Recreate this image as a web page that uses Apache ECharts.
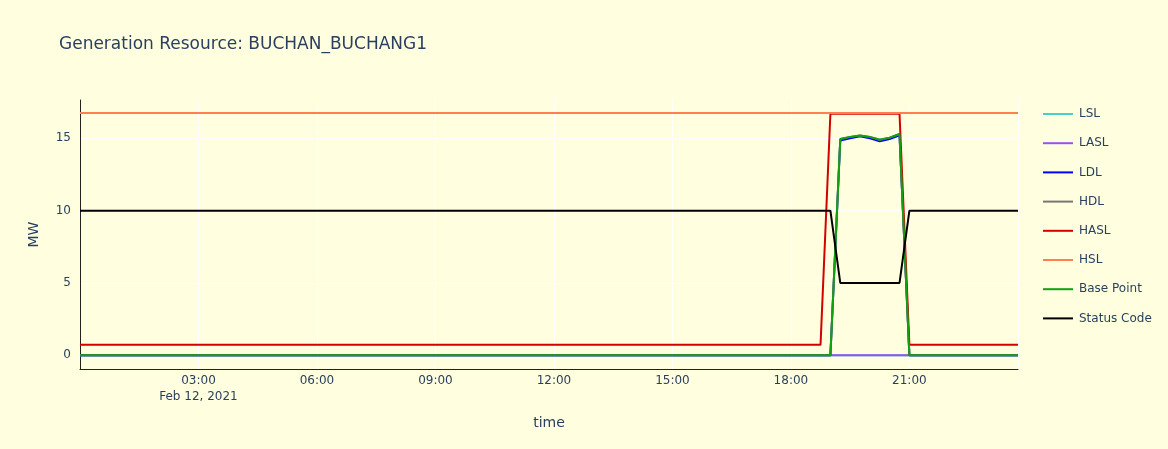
<!DOCTYPE html>
<html>
<head>
<meta charset="utf-8">
<script src="https://cdn.jsdelivr.net/npm/echarts@6/dist/echarts.min.js"></script>
<style>
html,body{margin:0;padding:0;background:#ffffe0;}
#c{width:1168px;height:449px;}
</style>
</head>
<body>
<div id="c"></div>
<script>
// Time of day in hours, 15-minute steps 00:00 .. 23:45 (96 points)
var hours = [
 0,0.25,0.5,0.75,1,1.25,1.5,1.75,2,2.25,2.5,2.75,3,3.25,3.5,3.75,
 4,4.25,4.5,4.75,5,5.25,5.5,5.75,6,6.25,6.5,6.75,7,7.25,7.5,7.75,
 8,8.25,8.5,8.75,9,9.25,9.5,9.75,10,10.25,10.5,10.75,11,11.25,11.5,11.75,
 12,12.25,12.5,12.75,13,13.25,13.5,13.75,14,14.25,14.5,14.75,15,15.25,15.5,15.75,
 16,16.25,16.5,16.75,17,17.25,17.5,17.75,18,18.25,18.5,18.75,19,19.25,19.5,19.75,
 20,20.25,20.5,20.75,21,21.25,21.5,21.75,22,22.25,22.5,22.75,23,23.25,23.5,23.75
];
var tickHours = [0, 3, 6, 9, 12, 15, 18, 21];
var tickLabels = ['', '03:00\nFeb 12, 2021', '06:00', '09:00', '12:00', '15:00', '18:00', '21:00'];
var yTicks = [0, 5, 10, 15];

var LSL = [
 0,0,0,0,0,0,0,0,0,0,0,0,0,0,0,0, 0,0,0,0,0,0,0,0,0,0,0,0,0,0,0,0,
 0,0,0,0,0,0,0,0,0,0,0,0,0,0,0,0, 0,0,0,0,0,0,0,0,0,0,0,0,0,0,0,0,
 0,0,0,0,0,0,0,0,0,0,0,0,0,0,0,0, 0,0,0,0,0,0,0,0,0,0,0,0,0,0,0,0
];
var LASL = [
 0,0,0,0,0,0,0,0,0,0,0,0,0,0,0,0, 0,0,0,0,0,0,0,0,0,0,0,0,0,0,0,0,
 0,0,0,0,0,0,0,0,0,0,0,0,0,0,0,0, 0,0,0,0,0,0,0,0,0,0,0,0,0,0,0,0,
 0,0,0,0,0,0,0,0,0,0,0,0,0,0,0,0, 0,0,0,0,0,0,0,0,0,0,0,0,0,0,0,0
];
var LDL = [
 0,0,0,0,0,0,0,0,0,0,0,0,0,0,0,0, 0,0,0,0,0,0,0,0,0,0,0,0,0,0,0,0,
 0,0,0,0,0,0,0,0,0,0,0,0,0,0,0,0, 0,0,0,0,0,0,0,0,0,0,0,0,0,0,0,0,
 0,0,0,0,0,0,0,0,0,0,0,0,0,14.85,15.0,15.15,
 15.0,14.8,14.95,15.2,0,0,0,0,0,0,0,0,0,0,0,0
];
var HDL = [
 0,0,0,0,0,0,0,0,0,0,0,0,0,0,0,0, 0,0,0,0,0,0,0,0,0,0,0,0,0,0,0,0,
 0,0,0,0,0,0,0,0,0,0,0,0,0,0,0,0, 0,0,0,0,0,0,0,0,0,0,0,0,0,0,0,0,
 0,0,0,0,0,0,0,0,0,0,0,0,0,14.95,15.1,15.2,
 15.1,14.9,15.05,15.3,0,0,0,0,0,0,0,0,0,0,0,0
];
var HASL = [
 0.72,0.72,0.72,0.72,0.72,0.72,0.72,0.72,0.72,0.72,0.72,0.72,0.72,0.72,0.72,0.72,
 0.72,0.72,0.72,0.72,0.72,0.72,0.72,0.72,0.72,0.72,0.72,0.72,0.72,0.72,0.72,0.72,
 0.72,0.72,0.72,0.72,0.72,0.72,0.72,0.72,0.72,0.72,0.72,0.72,0.72,0.72,0.72,0.72,
 0.72,0.72,0.72,0.72,0.72,0.72,0.72,0.72,0.72,0.72,0.72,0.72,0.72,0.72,0.72,0.72,
 0.72,0.72,0.72,0.72,0.72,0.72,0.72,0.72,0.72,0.72,0.72,0.72,16.7,16.7,16.7,16.7,
 16.7,16.7,16.7,16.7,0.72,0.72,0.72,0.72,0.72,0.72,0.72,0.72,0.72,0.72,0.72,0.72
];
var HSL = [
 16.75,16.75,16.75,16.75,16.75,16.75,16.75,16.75,16.75,16.75,16.75,16.75,16.75,16.75,16.75,16.75,
 16.75,16.75,16.75,16.75,16.75,16.75,16.75,16.75,16.75,16.75,16.75,16.75,16.75,16.75,16.75,16.75,
 16.75,16.75,16.75,16.75,16.75,16.75,16.75,16.75,16.75,16.75,16.75,16.75,16.75,16.75,16.75,16.75,
 16.75,16.75,16.75,16.75,16.75,16.75,16.75,16.75,16.75,16.75,16.75,16.75,16.75,16.75,16.75,16.75,
 16.75,16.75,16.75,16.75,16.75,16.75,16.75,16.75,16.75,16.75,16.75,16.75,16.75,16.75,16.75,16.75,
 16.75,16.75,16.75,16.75,16.75,16.75,16.75,16.75,16.75,16.75,16.75,16.75,16.75,16.75,16.75,16.75
];
var BasePoint = [
 0,0,0,0,0,0,0,0,0,0,0,0,0,0,0,0, 0,0,0,0,0,0,0,0,0,0,0,0,0,0,0,0,
 0,0,0,0,0,0,0,0,0,0,0,0,0,0,0,0, 0,0,0,0,0,0,0,0,0,0,0,0,0,0,0,0,
 0,0,0,0,0,0,0,0,0,0,0,0,0,14.95,15.1,15.2,
 15.1,14.9,15.05,15.3,0,0,0,0,0,0,0,0,0,0,0,0
];
var StatusCode = [
 10,10,10,10,10,10,10,10,10,10,10,10,10,10,10,10, 10,10,10,10,10,10,10,10,10,10,10,10,10,10,10,10,
 10,10,10,10,10,10,10,10,10,10,10,10,10,10,10,10, 10,10,10,10,10,10,10,10,10,10,10,10,10,10,10,10,
 10,10,10,10,10,10,10,10,10,10,10,10,10,5,5,5,
 5,5,5,5,10,10,10,10,10,10,10,10,10,10,10,10
];

var seriesNames = ['LSL','LASL','LDL','HDL','HASL','HSL','Base Point','Status Code'];
var seriesData = [LSL, LASL, LDL, HDL, HASL, HSL, BasePoint, StatusCode];
var seriesColors = ['#48d1cc','#9b4ff0','#0000ff','#777777','#d40000','#ff7f50','#10a010','#000000'];

function pairs(arr){ return arr.map(function(v,i){ return [hours[i], v]; }); }

var FONT = 'DejaVu Sans';
var TXT = '#2a3f5f';
var chart = echarts.init(document.getElementById('c'), null, {renderer:'canvas'});
chart.setOption({
  backgroundColor: '#ffffe0',
  animation: false,
  title: {
    text: 'Generation Resource: BUCHAN_BUCHANG1',
    left: 54, top: 31,
    textStyle: {fontFamily: FONT, fontSize: 17, fontWeight: 'normal', color: TXT}
  },
  legend: {
    orient: 'vertical',
    left: 1038, top: 103,
    itemGap: 17.2,
    itemWidth: 30, itemHeight: 18,
    icon: 'path://M0,8 L30,8 L30,10 L0,10 Z',
    textStyle: {fontFamily: FONT, fontSize: 12, color: TXT, padding: [0,0,0,1]},
    data: seriesNames.map(function(n,i){ return {name:n, itemStyle:{color:seriesColors[i]}}; })
  },
  grid: {left: 80, right: 150, top: 100, bottom: 80, containLabel: false},
  xAxis: {
    type: 'value',
    min: 0, max: 23.75, interval: 3,
    name: 'time', nameLocation: 'middle', nameGap: 47,
    nameTextStyle: {fontFamily: FONT, fontSize: 14, color: TXT},
    axisLine: {show: true, onZero: false, lineStyle: {color: '#222', width: 1}},
    axisTick: {show: false},
    axisLabel: {
      fontFamily: FONT, fontSize: 12, color: TXT, lineHeight: 16, margin: 4,
      showMinLabel: true, showMaxLabel: false,
      formatter: function(v){ var k = tickHours.indexOf(v); return k >= 0 ? tickLabels[k] : ''; }
    },
    splitLine: {show: true, lineStyle: {color: '#ffffff', width: 1}}
  },
  yAxis: {
    type: 'value',
    min: -0.95, max: 17.65,
    name: 'MW', nameLocation: 'middle', nameGap: 39, nameRotate: 90,
    nameTextStyle: {fontFamily: FONT, fontSize: 14, color: TXT},
    axisLine: {show: true, onZero: false, lineStyle: {color: '#222', width: 1}},
    axisTick: {show: false, customValues: yTicks},
    axisLabel: {
      fontFamily: FONT, fontSize: 12, color: TXT, margin: 9,
      showMinLabel: true, showMaxLabel: true,
      customValues: yTicks
    },
    splitLine: {show: true, lineStyle: {color: '#ffffff', width: 1}}
  },
  series: seriesNames.map(function(n,i){
    return {
      name: n, type: 'line', data: pairs(seriesData[i]),
      showSymbol: false, symbol: 'none',
      lineStyle: {color: seriesColors[i], width: 2},
      itemStyle: {color: seriesColors[i]},
      emphasis: {disabled: true},
      z: 2 + i
    };
  })
});
</script>
</body>
</html>
